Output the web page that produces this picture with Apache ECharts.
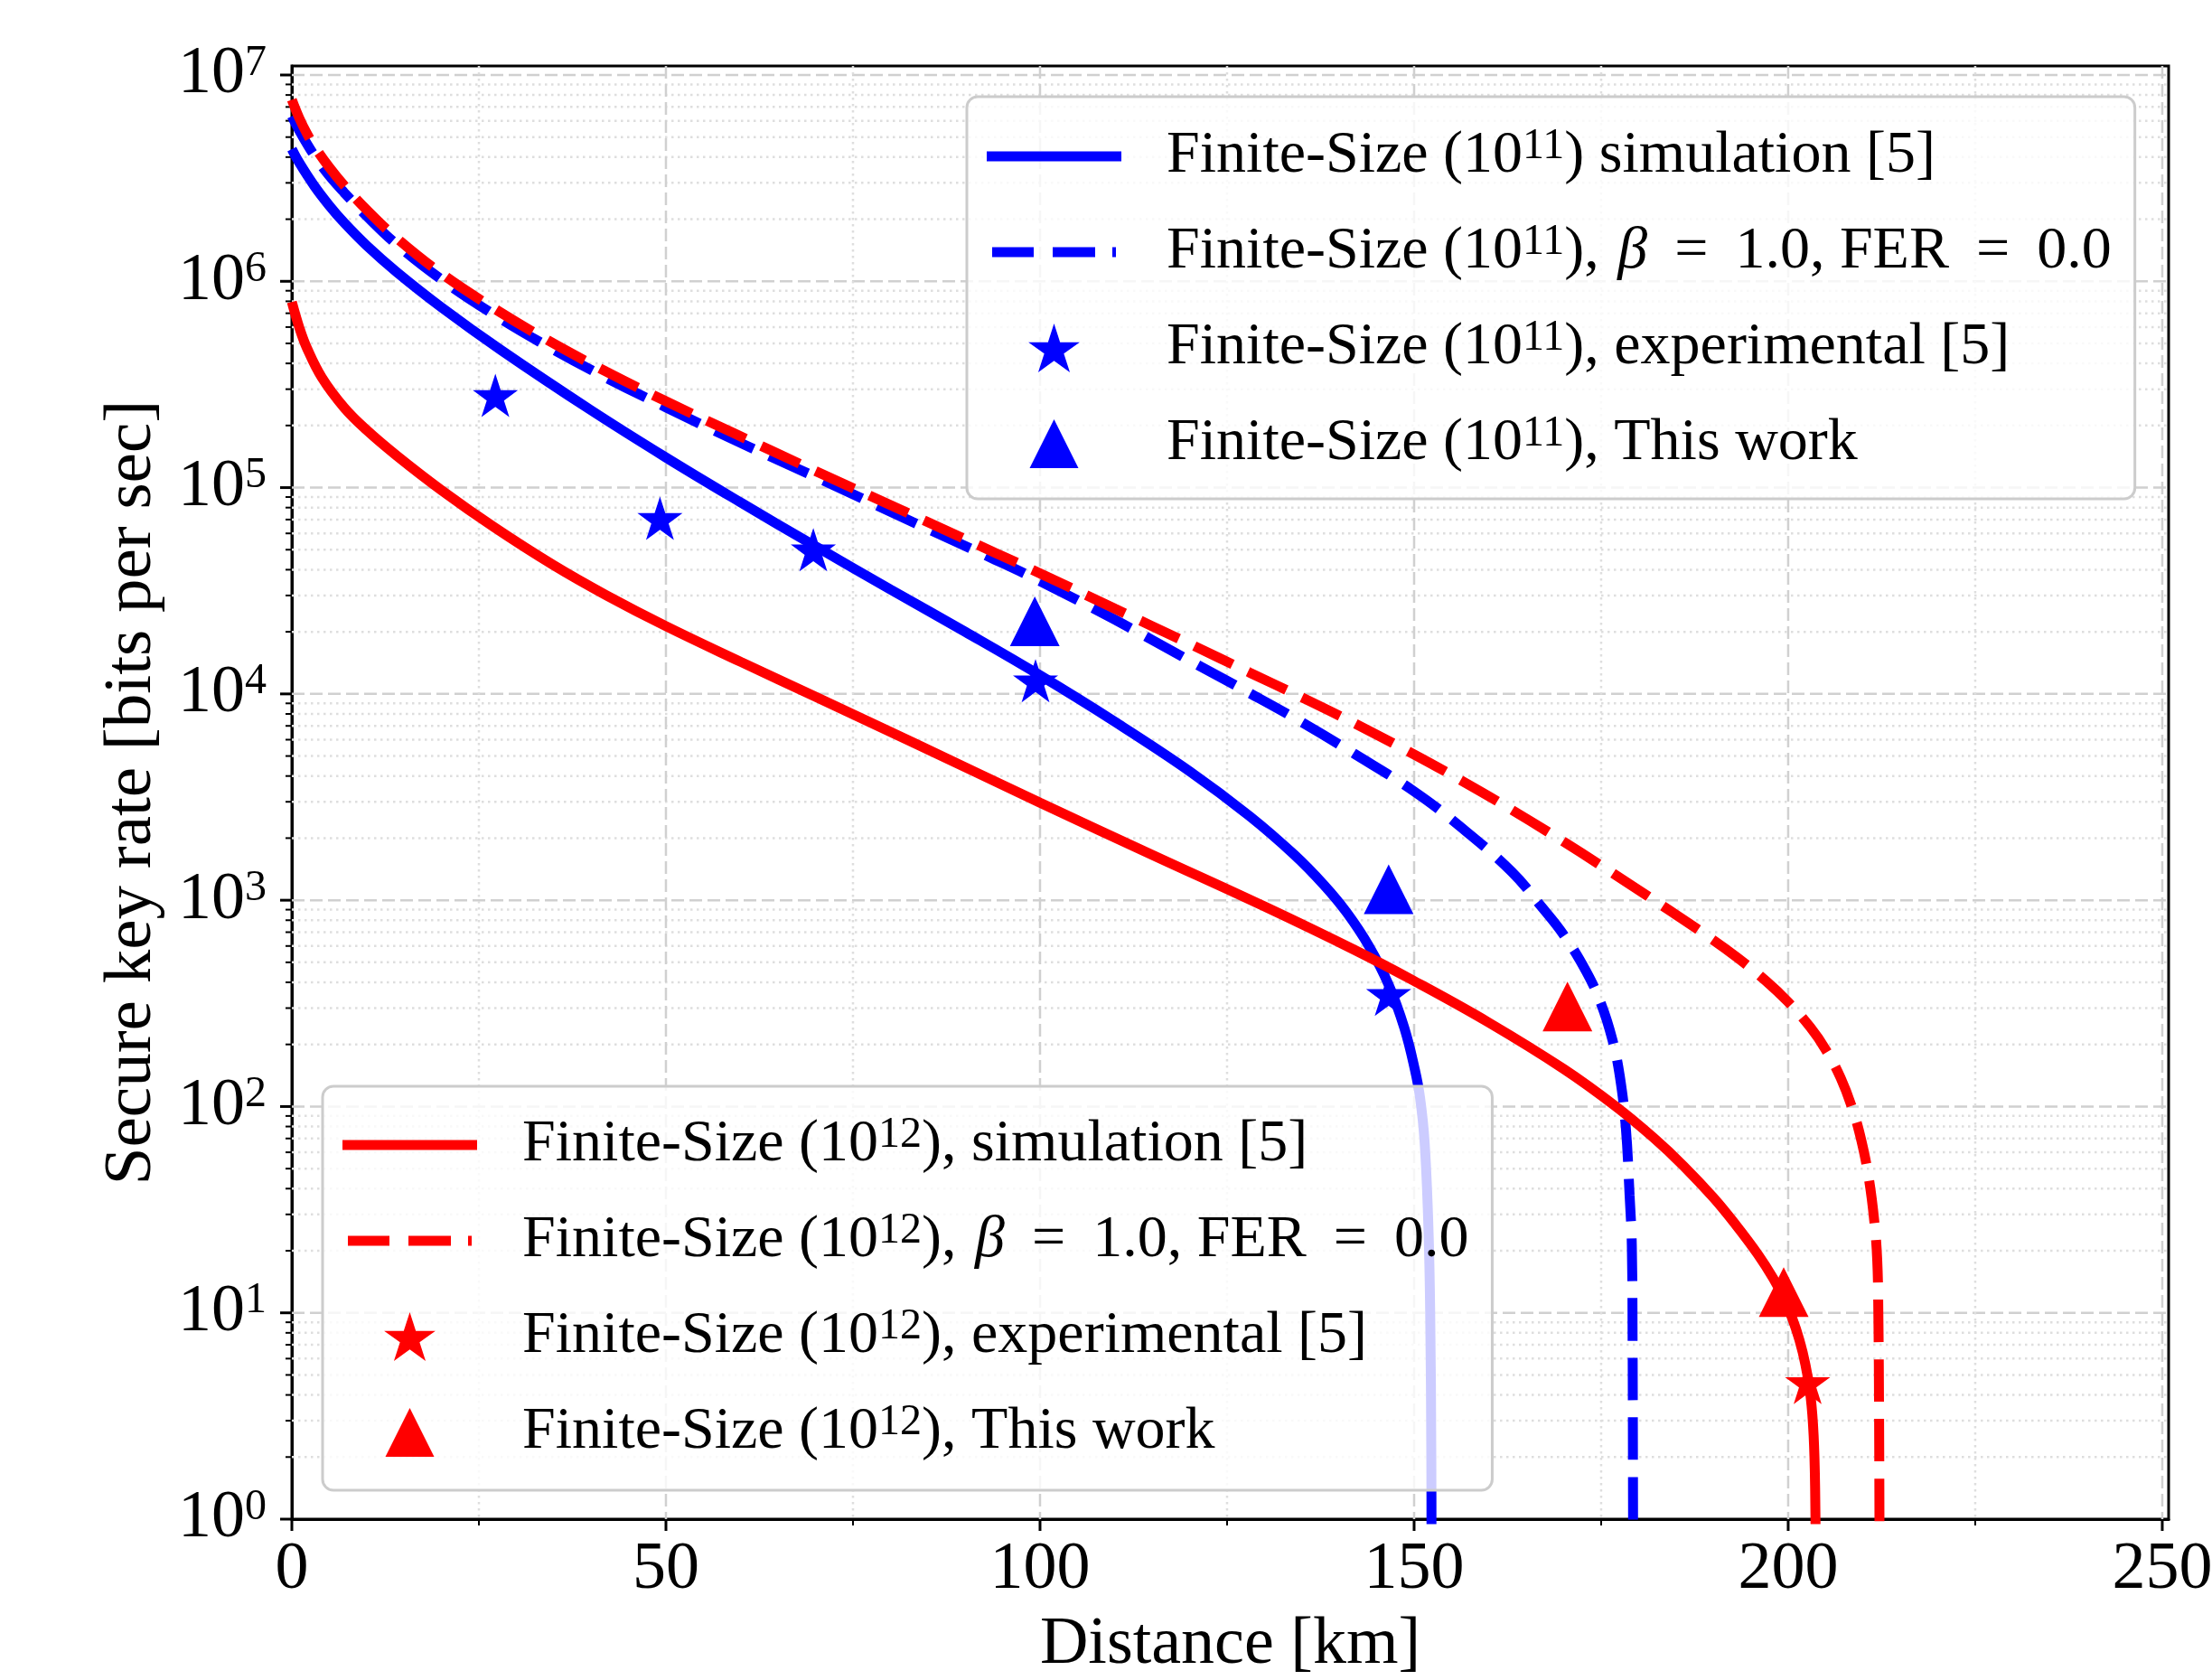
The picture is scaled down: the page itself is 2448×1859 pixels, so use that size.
<!DOCTYPE html>
<html>
<head>
<meta charset="utf-8">
<script src="https://cdn.jsdelivr.net/npm/echarts@6/dist/echarts.min.js"></script>
<style>
  html, body { margin: 0; padding: 0; background: #ffffff; }
  #chart { width: 2448px; height: 1859px; }
</style>
</head>
<body>
<div id="chart"></div>
<script>
const FONT = 'Liberation Serif';

// [distance km, secure key rate bit/s]
const sim11 = [[0,4.37e6],[1,3.75e6],[3,2.9e6],[5,2.33e6],[7,1.92e6],[10,1.49e6],[14,1.11e6],[20,7.48e5],[28,4.63e5],[40,2.37e5],[50,1.4e5],[60,8.47e4],[70,5.19e4],[80,3.21e4],[90,2.0e4],[100,1.23e4],[110,7.33e3],[120,4.22e3],[128,2.56e3],[134,1.66e3],[138,1.18e3],[141,871],[144,596],[146.6,389],[148.7,240],[150.1,151],[150.8,110],[151.4,67.6],[151.9,26.9],[152.15,10],[152.3,2],[152.33,0.5]];
const ideal11 = [[0,6.31e6],[1,5.37e6],[2,4.65e6],[3,4.08e6],[5,3.25e6],[7,2.69e6],[10,2.07e6],[14,1.51e6],[20,1.02e6],[27,6.9e5],[34,4.88e5],[42,3.41e5],[50,2.45e5],[59,1.71e5],[69,1.17e5],[83,6.81e4],[94,4.47e4],[100,3.52e4],[110,2.29e4],[120,1.45e4],[128,1.01e4],[135,7.29e3],[142,5.13e3],[150,3.37e3],[156,2.3e3],[163,1.38e3],[167,933],[170,679],[173,452],[175,314],[176.5,211],[177.5,140],[178.3,78.9],[178.8,37.3],[179.1,21.4],[179.2,7.9],[179.25,2],[179.28,0.5]];
const sim12 = [[0,7.94e5],[1,5.96e5],[2,4.76e5],[4,3.42e5],[7,2.44e5],[10,1.9e5],[14,1.43e5],[20,9.71e4],[27,6.44e4],[35,4.2e4],[42,3.01e4],[50,2.13e4],[60,1.43e4],[70,9.68e3],[83,5.82e3],[100,2.97e3],[115,1.66e3],[130,933],[142,575],[150,406],[160,255],[170,152],[177,99.8],[182,70.6],[186,51.6],[190,36.2],[193,26.7],[196,19.1],[198,14.7],[199.4,11.8],[200.5,9.5],[201.5,7.38],[202.3,5.62],[203,3.92],[203.4,2.55],[203.6,1.41],[203.7,0.5]];
const ideal12 = [[0,7.59e6],[1,6.17e6],[2,5.21e6],[3,4.52e6],[5,3.57e6],[7,2.91e6],[10,2.22e6],[14,1.62e6],[20,1.09e6],[27,7.4e5],[34,5.23e5],[42,3.65e5],[50,2.62e5],[59,1.84e5],[69,1.25e5],[83,7.34e4],[94,4.83e4],[100,3.84e4],[110,2.59e4],[120,1.75e4],[128,1.27e4],[135,9.62e3],[142,7.21e3],[150,5.09e3],[156,3.86e3],[163,2.75e3],[170,1.92e3],[177,1.32e3],[184,899],[189,679],[193,534],[197,407],[200,321],[203,241],[205,189],[207,138],[208.6,97.2],[209.8,67.9],[210.8,44.3],[211.5,28],[211.9,18.1],[212.05,10],[212.15,3.16],[212.22,0.5]];
const exp11 = [[27.2,2.8e5],[49.2,7.1e4],[69.7,5.0e4],[99.4,1.16e4],[146.6,350]];
const work11 = [[99.3,2.25e4],[146.6,1.13e3]];
const exp12 = [[202.6,4.6]];
const work12 = [[170.5,305],[199.4,12.6]];

// axis ticks
const xMajorTicks = [0, 50, 100, 150, 200, 250];
const xMinorTicks = [25, 75, 125, 175, 225];
const yMajorTicks = [1, 10, 100, 1e3, 1e4, 1e5, 1e6, 1e7];
const yMinorTicks = [];
for (let e = 0; e < 7; e++) {
  for (let m = 2; m <= 9; m++) yMinorTicks.push(m * Math.pow(10, e));
}

const X_MAX = 250.85;
const Y_MAX = 1.106e7;

const BLUE = '#0000ff';
const RED = '#ff0000';
const DASH = [47, 19];
const STAR = 'path://M95.11 0L72.66 69.1L0 69.1L58.78 111.8L36.33 180.9L95.11 138.2L153.89 180.9L131.44 111.8L190.22 69.1L117.56 69.1Z';
const TRIANGLE = 'path://M50 0L100 100L0 100Z';
// legend keys: a solid bar and a bar broken into dashes, both 149 wide
const KEY_SOLID = 'path://M0 0H149V11H0Z';
const KEY_DASHED = 'path://M0 5.5L149 5.5Z M6 0H52V11H6Z M73 0H120V11H73Z M139 0H143V11H139Z';

const N = {
  sim11: 'Finite-Size (10^11) simulation [5]',
  ideal11: 'Finite-Size (10^11), beta = 1.0, FER = 0.0',
  exp11: 'Finite-Size (10^11), experimental [5]',
  work11: 'Finite-Size (10^11), This work',
  sim12: 'Finite-Size (10^12), simulation [5]',
  ideal12: 'Finite-Size (10^12), beta = 1.0, FER = 0.0',
  exp12: 'Finite-Size (10^12), experimental [5]',
  work12: 'Finite-Size (10^12), This work'
};

const legendText = {};
legendText[N.sim11] = '{t|Finite-Size (10}{s|11}{t|) simulation [5]}';
legendText[N.ideal11] = '{t|Finite-Size (10}{s|11}{t|), }{g|β}{q|=}{t|1.0, FER}{q|=}{t|0.0}';
legendText[N.exp11] = '{t|Finite-Size (10}{s|11}{t|), experimental [5]}';
legendText[N.work11] = '{t|Finite-Size (10}{s|11}{t|), This work}';
legendText[N.sim12] = '{t|Finite-Size (10}{s|12}{t|), simulation [5]}';
legendText[N.ideal12] = '{t|Finite-Size (10}{s|12}{t|), }{g|β}{q|=}{t|1.0, FER}{q|=}{t|0.0}';
legendText[N.exp12] = '{t|Finite-Size (10}{s|12}{t|), experimental [5]}';
legendText[N.work12] = '{t|Finite-Size (10}{s|12}{t|), This work}';

const legendRich = {
  t: { fontFamily: FONT, fontSize: 66, lineHeight: 70, color: '#000' },
  g: { fontFamily: FONT, fontSize: 66, lineHeight: 70, color: '#000', fontStyle: 'italic', padding: [0, 0, 0, 4] },
  q: { fontFamily: FONT, fontSize: 66, lineHeight: 70, color: '#000', padding: [0, 30, 0, 30] },
  s: { fontFamily: FONT, fontSize: 48, lineHeight: 16, color: '#000', verticalAlign: 'top' }
};

function legendBox(items, left, top, padTop, padBottom) {
  return {
    orient: 'vertical',
    left: left,
    top: top,
    padding: [padTop, 26, padBottom, 22],
    itemWidth: 149,
    itemHeight: 54,
    itemGap: 38,
    selectedMode: false,
    backgroundColor: 'rgba(255,255,255,0.8)',
    borderColor: '#cccccc',
    borderWidth: 3,
    borderRadius: 12,
    itemStyle: { borderWidth: 0 },
    data: items,
    formatter: name => legendText[name],
    textStyle: { fontFamily: FONT, fontSize: 66, color: '#000', padding: [0, 0, 0, 45], rich: legendRich }
  };
}

// gridlines and tick marks: kind 0/1 = major/minor on y, 2/3 = major/minor on x
const gridData = []
  .concat(yMajorTicks.map(v => [0, v, 0]))
  .concat(yMinorTicks.map(v => [0, v, 1]))
  .concat(xMajorTicks.map(v => [v, 1, 2]))
  .concat(xMinorTicks.map(v => [v, 1, 3]));

function renderGrid(params, api) {
  const cs = params.coordSys;
  const kind = api.value(2);
  const major = (kind === 0 || kind === 2);
  const lineStyle = major
    ? { stroke: '#d0d0d0', lineWidth: 2.5, lineDash: [14, 6], fill: null }
    : { stroke: '#dedede', lineWidth: 2.5, lineDash: [2.5, 4.5], fill: null };
  const tickStyle = { stroke: '#000', lineWidth: major ? 3 : 2, fill: null };
  const len = major ? 13 : 7;
  const children = [];
  if (kind < 2) {
    const y = api.coord([0, api.value(1)])[1];
    if (Math.abs(y - (cs.y + cs.height)) > 1) {
      children.push({ type: 'line', shape: { x1: cs.x, y1: y, x2: cs.x + cs.width, y2: y }, style: lineStyle });
    }
    children.push({ type: 'line', shape: { x1: cs.x - len, y1: y, x2: cs.x, y2: y }, style: tickStyle });
  } else {
    const x = api.coord([api.value(0), 1])[0];
    const bottom = cs.y + cs.height;
    if (Math.abs(x - cs.x) > 1) {
      children.push({ type: 'line', shape: { x1: x, y1: cs.y, x2: x, y2: bottom }, style: lineStyle });
    }
    children.push({ type: 'line', shape: { x1: x, y1: bottom, x2: x, y2: bottom + len }, style: tickStyle });
  }
  return { type: 'group', children: children };
}

function curve(name, data, color, dash) {
  return {
    type: 'line', name: name, data: data,
    showSymbol: false, symbol: 'none',
    smooth: 0.4,
    clip: true, silent: true, z: 2,
    emphasis: { disabled: true },
    itemStyle: { color: color },
    lineStyle: { color: color, width: 11, type: dash, cap: 'butt' }
  };
}

function marks(name, data, color, symbol, size) {
  return {
    type: 'scatter', name: name, data: data,
    symbol: symbol, symbolSize: size, symbolKeepAspect: false,
    silent: true, z: 3,
    emphasis: { disabled: true },
    itemStyle: { color: color, opacity: 1 }
  };
}

const chart = echarts.init(document.getElementById('chart'), null, { renderer: 'canvas', width: 2448, height: 1859 });

chart.setOption({
  animation: false,
  backgroundColor: '#ffffff',
  textStyle: { fontFamily: FONT },
  grid: {
    left: 323, top: 73, width: 2077, height: 1608,
    show: true, borderColor: '#000000', borderWidth: 3, backgroundColor: 'transparent',
    containLabel: false, outerBoundsMode: 'none'
  },
  xAxis: {
    type: 'value', min: 0, max: X_MAX, interval: 50,
    name: 'Distance [km]', nameLocation: 'middle', nameGap: 100,
    nameTextStyle: { fontFamily: FONT, fontSize: 74, color: '#000', lineHeight: 80 },
    axisLine: { show: true, lineStyle: { color: '#000', width: 3 } },
    axisTick: { show: false },
    minorTick: { show: false },
    splitLine: { show: false },
    axisLabel: {
      fontFamily: FONT, fontSize: 74, color: '#000', margin: 20, lineHeight: 74,
      showMaxLabel: true, showMinLabel: true, hideOverlap: false,
      formatter: v => (Math.abs(v / 50 - Math.round(v / 50)) < 1e-9 ? String(Math.round(v)) : '')
    }
  },
  yAxis: {
    type: 'log', logBase: 10, min: 1, max: Y_MAX, splitNumber: 7,
    name: 'Secure key rate [bits per sec]', nameLocation: 'middle', nameGap: 130, nameRotate: 90,
    nameTextStyle: { fontFamily: FONT, fontSize: 75, color: '#000', lineHeight: 80 },
    axisLine: { show: true, lineStyle: { color: '#000', width: 3 } },
    axisTick: { show: false },
    minorTick: { show: false },
    splitLine: { show: false },
    axisLabel: {
      margin: 28, color: '#000', hideOverlap: false,
      formatter: v => {
        const l = Math.log10(v);
        const e = Math.round(l);
        if (Math.abs(l - e) > 1e-6) return '';
        return '{b|10}{e|' + e + '}';
      },
      rich: {
        b: { fontFamily: FONT, fontSize: 74, lineHeight: 74, color: '#000' },
        e: { fontFamily: FONT, fontSize: 48, lineHeight: 40, color: '#000', verticalAlign: 'top' }
      }
    }
  },
  legend: [
    legendBox([
      { name: N.sim11, icon: KEY_SOLID },
      { name: N.ideal11, icon: KEY_DASHED },
      { name: N.exp11, icon: STAR },
      { name: N.work11, icon: TRIANGLE }
    ], 1070, 107, 31, 28),
    legendBox([
      { name: N.sim12, icon: KEY_SOLID },
      { name: N.ideal12, icon: KEY_DASHED },
      { name: N.exp12, icon: STAR },
      { name: N.work12, icon: TRIANGLE }
    ], 357, 1202, 30, 31)
  ],
  series: [
    {
      type: 'custom', name: 'grid', coordinateSystem: 'cartesian2d',
      data: gridData, encode: { x: 0, y: 1 },
      renderItem: renderGrid, silent: true, clip: false, z: 1
    },
    curve(N.sim11, sim11, BLUE, 'solid'),
    curve(N.ideal11, ideal11, BLUE, DASH),
    curve(N.sim12, sim12, RED, 'solid'),
    curve(N.ideal12, ideal12, RED, DASH),
    marks(N.exp11, exp11, BLUE, STAR, [50, 48]),
    marks(N.work11, work11, BLUE, TRIANGLE, [55, 55]),
    marks(N.exp12, exp12, RED, STAR, [50, 48]),
    marks(N.work12, work12, RED, TRIANGLE, [55, 55])
  ]
});
</script>
</body>
</html>
